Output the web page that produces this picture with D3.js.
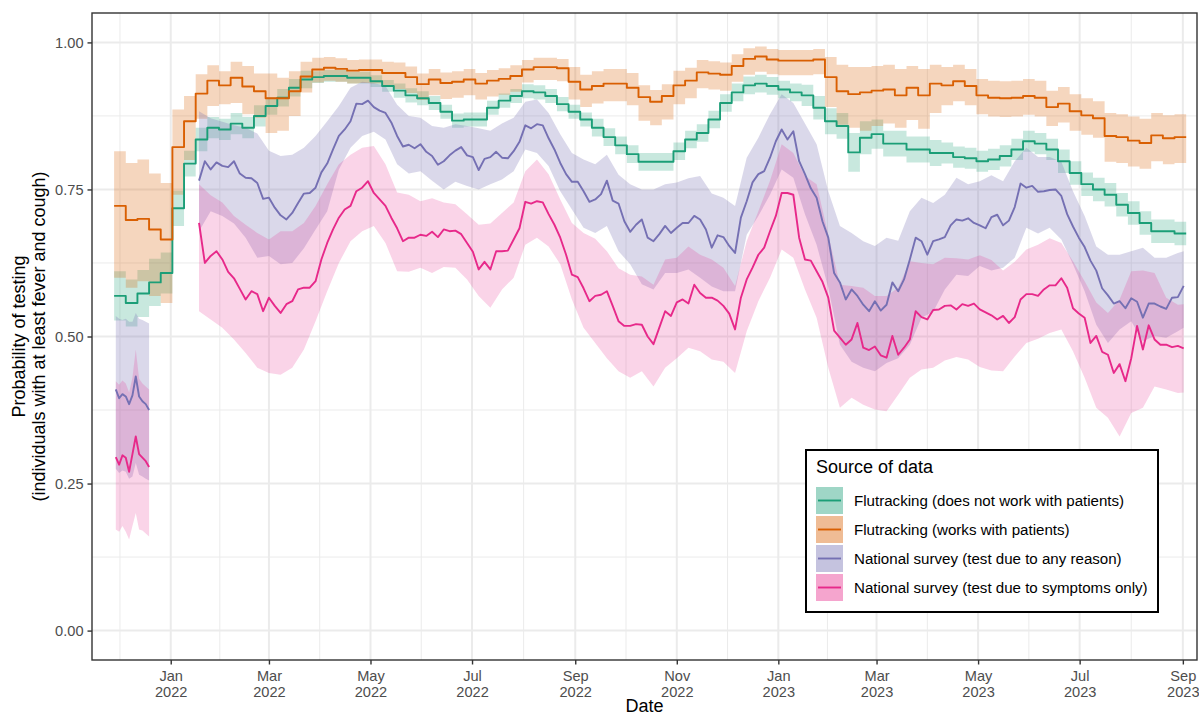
<!DOCTYPE html>
<html>
<head>
<meta charset="utf-8">
<script src="https://cdn.jsdelivr.net/npm/d3@7"></script>
<style>
  body { margin: 0; background: #fff; }
  text { font-family: "Liberation Sans", Arial, sans-serif; }
</style>
</head>
<body>
<div id="chart"></div>
<script>
// ---- data ----
const seriesNames = [
  "Flutracking (does not work with patients)",
  "Flutracking (works with patients)",
  "National survey (test due to any reason)",
  "National survey (test due to symptoms only)"
];
const seriesColors = ["#1B9E77", "#D95F02", "#7570B3", "#E7298A"];
const bandOpacity = [0.24, 0.26, 0.27, 0.2];

// Flutracking: weekly values, first week starts 2021-11-28
const fluFirstWeek = "2021-11-28";
const fluNoPatients = [
  0.569,0.557,0.573,0.592,0.608,0.718,0.794,0.835,0.855,0.852,
  0.862,0.855,0.875,0.892,0.906,0.923,0.937,0.941,0.943,0.943,
  0.940,0.940,0.934,0.926,0.918,0.910,0.905,0.897,0.882,0.867,
  0.869,0.869,0.889,0.901,0.909,0.917,0.915,0.909,0.895,0.882,
  0.869,0.855,0.839,0.825,0.810,0.797,0.797,0.797,0.815,0.835,
  0.846,0.869,0.897,0.915,0.927,0.930,0.926,0.920,0.915,0.910,
  0.889,0.866,0.858,0.813,0.838,0.844,0.828,0.828,0.818,0.818,
  0.812,0.812,0.805,0.803,0.798,0.801,0.807,0.818,0.832,0.828,
  0.818,0.798,0.778,0.759,0.750,0.741,0.724,0.710,0.693,0.679,
  0.679,0.675];
const fluNoPatientsHalf = [
  0.042,0.040,0.040,0.040,0.035,0.030,0.022,0.020,0.018,0.018,
  0.018,0.018,0.018,0.015,0.015,0.015,0.015,0.010,0.010,0.010,
  0.010,0.010,0.010,0.010,0.012,0.012,0.012,0.012,0.012,0.012,
  0.012,0.012,0.012,0.012,0.012,0.012,0.012,0.012,0.012,0.012,
  0.012,0.015,0.015,0.015,0.015,0.015,0.015,0.015,0.015,0.015,
  0.015,0.015,0.015,0.015,0.015,0.015,0.015,0.015,0.015,0.018,
  0.020,0.022,0.022,0.033,0.028,0.025,0.022,0.022,0.022,0.022,
  0.022,0.018,0.018,0.018,0.018,0.018,0.018,0.018,0.018,0.018,
  0.018,0.020,0.020,0.020,0.020,0.020,0.020,0.020,0.020,0.020,
  0.020,0.020];
const fluPatients = [
  0.722,0.698,0.700,0.682,0.665,0.822,0.866,0.913,0.935,0.927,
  0.940,0.925,0.917,0.905,0.905,0.917,0.942,0.954,0.957,0.955,
  0.952,0.953,0.953,0.948,0.948,0.941,0.929,0.937,0.931,0.933,
  0.937,0.930,0.935,0.938,0.943,0.954,0.958,0.958,0.956,0.933,
  0.920,0.926,0.930,0.930,0.923,0.907,0.899,0.909,0.927,0.935,
  0.949,0.947,0.945,0.960,0.972,0.976,0.971,0.969,0.969,0.969,
  0.971,0.941,0.917,0.912,0.915,0.918,0.920,0.910,0.923,0.910,
  0.930,0.927,0.934,0.926,0.910,0.906,0.905,0.906,0.909,0.906,
  0.890,0.896,0.883,0.876,0.871,0.841,0.839,0.833,0.829,0.842,
  0.837,0.839];
const fluPatientsHi = [
  0.815,0.795,0.801,0.777,0.761,0.886,0.909,0.946,0.961,0.951,
  0.967,0.960,0.947,0.947,0.940,0.951,0.967,0.974,0.975,0.973,
  0.970,0.971,0.971,0.967,0.966,0.959,0.947,0.955,0.949,0.951,
  0.955,0.948,0.953,0.956,0.961,0.970,0.974,0.974,0.972,0.958,
  0.945,0.951,0.955,0.955,0.948,0.927,0.919,0.929,0.952,0.957,
  0.970,0.968,0.966,0.980,0.990,0.993,0.989,0.987,0.987,0.987,
  0.989,0.975,0.962,0.958,0.958,0.960,0.962,0.955,0.960,0.955,
  0.962,0.958,0.962,0.955,0.938,0.935,0.934,0.935,0.938,0.935,
  0.918,0.924,0.912,0.905,0.900,0.880,0.878,0.874,0.870,0.880,
  0.876,0.878];
const fluPatientsLo = [
  0.600,0.583,0.594,0.569,0.557,0.741,0.800,0.870,0.892,0.895,
  0.897,0.878,0.872,0.846,0.850,0.875,0.915,0.932,0.935,0.933,
  0.930,0.931,0.930,0.925,0.921,0.914,0.902,0.910,0.904,0.906,
  0.910,0.903,0.908,0.911,0.916,0.932,0.936,0.936,0.934,0.903,
  0.890,0.896,0.900,0.900,0.893,0.867,0.859,0.869,0.895,0.905,
  0.922,0.920,0.918,0.933,0.945,0.950,0.946,0.944,0.944,0.944,
  0.946,0.890,0.860,0.855,0.850,0.858,0.862,0.855,0.868,0.853,
  0.880,0.893,0.900,0.893,0.878,0.874,0.873,0.874,0.877,0.874,
  0.858,0.864,0.850,0.843,0.838,0.797,0.795,0.789,0.785,0.798,
  0.793,0.795];

// National survey, first block (late 2021)
const surveyEarlyDates = ["2021-11-29","2021-12-01","2021-12-03","2021-12-05","2021-12-07",
  "2021-12-09","2021-12-11","2021-12-13","2021-12-15","2021-12-17","2021-12-19"];
const anyEarly   = [0.410,0.395,0.402,0.398,0.385,0.400,0.432,0.398,0.390,0.385,0.375];
const anyEarlyHi = [0.535,0.530,0.528,0.530,0.525,0.525,0.540,0.530,0.528,0.525,0.522];
const anyEarlyLo = [0.275,0.268,0.272,0.270,0.258,0.262,0.285,0.265,0.262,0.258,0.255];
const symEarly   = [0.295,0.282,0.298,0.294,0.270,0.300,0.330,0.300,0.294,0.288,0.278];
const symEarlyHi = [0.424,0.418,0.425,0.420,0.405,0.430,0.478,0.428,0.420,0.415,0.410];
const symEarlyLo = [0.172,0.168,0.178,0.168,0.155,0.178,0.200,0.172,0.170,0.165,0.160];

// National survey, main block: lines every 3.5 days from 2022-01-18
const surveyStart = "2022-01-18";
const anyReason = [
  0.765,0.798, 0.784,0.796, 0.790,0.788, 0.798,0.777, 0.770,0.769,
  0.761,0.734, 0.736,0.719, 0.706,0.699, 0.710,0.727, 0.743,0.744,
  0.753,0.779, 0.794,0.818, 0.841,0.852, 0.866,0.896, 0.895,0.901,
  0.890,0.884, 0.880,0.864, 0.841,0.823, 0.826,0.820, 0.827,0.814,
  0.807,0.792, 0.798,0.808, 0.816,0.822, 0.808,0.805, 0.783,0.802,
  0.805,0.814, 0.804,0.803, 0.815,0.831, 0.859,0.854, 0.861,0.859,
  0.837,0.818, 0.795,0.776, 0.763,0.763, 0.747,0.729, 0.733,0.742,
  0.765,0.731, 0.726,0.696, 0.678,0.690, 0.699,0.668, 0.662,0.674,
  0.688,0.676, 0.685,0.693, 0.693,0.705, 0.699,0.682, 0.651,0.672,
  0.669,0.654, 0.642,0.702, 0.730,0.762, 0.776,0.781, 0.804,0.832,
  0.852,0.835, 0.849,0.798, 0.776,0.752, 0.736,0.696, 0.668,0.608,
  0.592,0.563, 0.580,0.569, 0.554,0.543, 0.560,0.544, 0.554,0.592,
  0.577,0.597, 0.631,0.668, 0.662,0.639, 0.662,0.665, 0.669,0.689,
  0.699,0.697, 0.701,0.693, 0.689,0.684, 0.703,0.707, 0.689,0.697,
  0.720,0.760, 0.753,0.756, 0.746,0.747, 0.749,0.750, 0.739,0.708,
  0.687,0.668, 0.652,0.629, 0.612,0.582, 0.570,0.556, 0.560,0.548,
  0.565,0.559, 0.532,0.556, 0.556,0.551, 0.547,0.566, 0.567,0.586];
const symptomsOnly = [
  0.693,0.625, 0.637,0.645, 0.631,0.610, 0.599,0.581, 0.563,0.577,
  0.572,0.543, 0.566,0.552, 0.540,0.555, 0.560,0.580, 0.583,0.583,
  0.594,0.631, 0.659,0.682, 0.702,0.716, 0.722,0.747, 0.753,0.764,
  0.744,0.733, 0.722,0.702, 0.684,0.662, 0.668,0.668, 0.673,0.671,
  0.678,0.669, 0.682,0.679, 0.680,0.674, 0.659,0.644, 0.614,0.627,
  0.614,0.645, 0.645,0.646, 0.665,0.684, 0.729,0.726, 0.730,0.728,
  0.708,0.690, 0.668,0.639, 0.605,0.601, 0.582,0.560, 0.569,0.571,
  0.577,0.552, 0.526,0.518, 0.518,0.521, 0.520,0.500, 0.487,0.515,
  0.543,0.535, 0.558,0.563, 0.556,0.588, 0.574,0.566, 0.566,0.561,
  0.552,0.539, 0.512,0.566, 0.597,0.617, 0.639,0.651, 0.679,0.705,
  0.744,0.744, 0.741,0.668, 0.631,0.629, 0.611,0.593, 0.566,0.510,
  0.498,0.486, 0.495,0.523, 0.481,0.477, 0.483,0.468, 0.464,0.501,
  0.469,0.481, 0.495,0.543, 0.533,0.529, 0.545,0.546, 0.552,0.553,
  0.546,0.555, 0.552,0.556, 0.546,0.541, 0.536,0.529, 0.535,0.523,
  0.533,0.563, 0.572,0.572, 0.569,0.580, 0.587,0.587, 0.599,0.583,
  0.548,0.539, 0.532,0.489, 0.501,0.474, 0.469,0.438, 0.453,0.424,
  0.463,0.518, 0.478,0.519, 0.495,0.486, 0.486,0.482, 0.484,0.480];

// confidence bands: weekly from 2022-01-18, last value at the end of the line
const anyReasonHi = [
  0.883,0.871,0.865,0.859,0.855,0.845,0.816,0.807,0.809,0.821,
  0.841,0.866,0.892,0.923,0.933,0.931,0.926,0.894,0.875,0.872,
  0.858,0.855,0.861,0.858,0.854,0.850,0.862,0.872,0.899,0.903,
  0.880,0.844,0.812,0.801,0.793,0.809,0.775,0.759,0.750,0.750,
  0.759,0.762,0.769,0.773,0.743,0.736,0.722,0.804,0.838,0.878,
  0.912,0.897,0.862,0.827,0.747,0.688,0.676,0.662,0.654,0.668,
  0.663,0.713,0.736,0.727,0.741,0.770,0.759,0.764,0.774,0.764,
  0.798,0.821,0.805,0.805,0.797,0.747,0.705,0.653,0.639,0.639,
  0.645,0.651,0.634,0.634,0.642,0.645];
const anyReasonLo = [
  0.679,0.713,0.705,0.692,0.668,0.634,0.637,0.623,0.625,0.650,
  0.682,0.713,0.784,0.821,0.841,0.848,0.835,0.793,0.777,0.781,
  0.765,0.750,0.763,0.756,0.750,0.759,0.767,0.781,0.818,0.812,
  0.790,0.747,0.716,0.685,0.676,0.688,0.645,0.623,0.589,0.580,
  0.608,0.608,0.614,0.600,0.585,0.577,0.577,0.673,0.705,0.741,
  0.784,0.770,0.708,0.656,0.583,0.486,0.457,0.447,0.441,0.455,
  0.463,0.486,0.532,0.542,0.580,0.605,0.603,0.620,0.612,0.617,
  0.634,0.685,0.675,0.685,0.665,0.623,0.577,0.520,0.489,0.512,
  0.526,0.492,0.501,0.498,0.509,0.515];
const symptomsHi = [
  0.759,0.740,0.728,0.705,0.690,0.676,0.665,0.679,0.679,0.693,
  0.722,0.759,0.793,0.809,0.821,0.824,0.793,0.745,0.741,0.730,
  0.735,0.728,0.725,0.708,0.690,0.692,0.710,0.728,0.781,0.801,
  0.776,0.733,0.693,0.676,0.666,0.645,0.616,0.605,0.602,0.588,
  0.631,0.634,0.653,0.639,0.631,0.617,0.586,0.662,0.713,0.765,
  0.827,0.812,0.773,0.759,0.673,0.588,0.586,0.583,0.569,0.569,
  0.583,0.628,0.625,0.623,0.634,0.633,0.631,0.638,0.630,0.612,
  0.627,0.648,0.656,0.667,0.659,0.628,0.594,0.558,0.540,0.563,
  0.611,0.612,0.608,0.566,0.554,0.555];
const symptomsLo = [
  0.543,0.529,0.515,0.495,0.472,0.447,0.438,0.435,0.447,0.478,
  0.526,0.577,0.625,0.662,0.679,0.688,0.659,0.611,0.610,0.617,
  0.608,0.618,0.617,0.597,0.569,0.549,0.580,0.600,0.656,0.668,
  0.653,0.623,0.563,0.515,0.489,0.463,0.441,0.430,0.441,0.415,
  0.447,0.463,0.481,0.475,0.461,0.457,0.438,0.509,0.560,0.600,
  0.648,0.634,0.580,0.532,0.447,0.379,0.396,0.384,0.376,0.373,
  0.401,0.430,0.444,0.447,0.459,0.465,0.461,0.448,0.442,0.441,
  0.466,0.489,0.496,0.506,0.512,0.475,0.430,0.379,0.362,0.330,
  0.370,0.379,0.415,0.410,0.404,0.405];

const yTicks = [0, 0.25, 0.5, 0.75, 1.0];

// ---- layout ----
const W = 1199, H = 717;
const panel = {left: 92, right: 1197, top: 13, bottom: 660};
const parse = d3.utcParse("%Y-%m-%d");

const x = d3.scaleUtc()
  .domain([new Date(Date.UTC(2021, 10, 14, 17)), new Date(Date.UTC(2023, 8, 9, 12))])
  .range([panel.left, panel.right]);
const y = d3.scaleLinear().domain([-0.05, 1.05]).range([panel.bottom, panel.top]);

const svg = d3.select("#chart").append("svg")
  .attr("width", W).attr("height", H);

// grid
const grid = svg.append("g");
const majorMonths = d3.utcMonth.every(2).range(new Date(Date.UTC(2021, 10, 1)), new Date(Date.UTC(2023, 11, 2)));
const minorMonths = d3.pairs(majorMonths).map(([a, b]) => new Date((+a + +b) / 2));
const inPanel = d => x(d) >= panel.left && x(d) <= panel.right;

grid.selectAll(".vminor").data(minorMonths.filter(inPanel)).enter().append("line")
  .attr("x1", d => x(d)).attr("x2", d => x(d))
  .attr("y1", panel.top).attr("y2", panel.bottom)
  .attr("stroke", "#ebebeb").attr("stroke-width", 1);
grid.selectAll(".hminor").data(d3.pairs(yTicks).map(([a, b]) => (a + b) / 2)).enter().append("line")
  .attr("x1", panel.left).attr("x2", panel.right)
  .attr("y1", d => y(d)).attr("y2", d => y(d))
  .attr("stroke", "#ebebeb").attr("stroke-width", 1);
grid.selectAll(".vmajor").data(majorMonths.filter(inPanel)).enter().append("line")
  .attr("x1", d => x(d)).attr("x2", d => x(d))
  .attr("y1", panel.top).attr("y2", panel.bottom)
  .attr("stroke", "#ebebeb").attr("stroke-width", 2);
grid.selectAll(".hmajor").data(yTicks).enter().append("line")
  .attr("x1", panel.left).attr("x2", panel.right)
  .attr("y1", d => y(d)).attr("y2", d => y(d))
  .attr("stroke", "#ebebeb").attr("stroke-width", 2);

// build series
const fluStart = parse(fluFirstWeek);
const weekDate = i => d3.utcDay.offset(fluStart, 7 * i);
function stepData(vals, lo, hi) {
  const pts = vals.map((v, i) => ({date: weekDate(i), v: v, lo: lo[i], hi: hi[i]}));
  const last = pts[pts.length - 1];
  pts.push({date: weekDate(vals.length), v: last.v, lo: last.lo, hi: last.hi});
  return pts;
}
const greenData = stepData(fluNoPatients,
  fluNoPatients.map((v, i) => v - fluNoPatientsHalf[i]),
  fluNoPatients.map((v, i) => v + fluNoPatientsHalf[i]));
const orangeData = stepData(fluPatients, fluPatientsLo, fluPatientsHi);

const sStart = parse(surveyStart);
const lineDate = i => d3.utcHour.offset(sStart, 84 * i);
const bandDate = (i, n, nLine) => i < n - 1 ? d3.utcDay.offset(sStart, 7 * i) : lineDate(nLine - 1);

function surveyLine(vals) {
  return vals.map((v, i) => ({date: lineDate(i), v: v}));
}
function surveyBand(lo, hi, nLine) {
  return lo.map((l, i) => ({date: bandDate(i, lo.length, nLine), lo: l, hi: hi[i]}));
}
function earlyLine(vals) {
  return vals.map((v, i) => ({date: parse(surveyEarlyDates[i]), v: v}));
}
function earlyBand(lo, hi) {
  return lo.map((l, i) => ({date: parse(surveyEarlyDates[i]), lo: l, hi: hi[i]}));
}

const bands = [
  {data: greenData, k: 0, step: true},
  {data: orangeData, k: 1, step: true},
  {data: earlyBand(anyEarlyLo, anyEarlyHi), k: 2},
  {data: surveyBand(anyReasonLo, anyReasonHi, anyReason.length), k: 2},
  {data: earlyBand(symEarlyLo, symEarlyHi), k: 3},
  {data: surveyBand(symptomsLo, symptomsHi, symptomsOnly.length), k: 3}
];
const lines = [
  {data: greenData, k: 0, step: true},
  {data: orangeData, k: 1, step: true},
  {data: earlyLine(anyEarly), k: 2},
  {data: surveyLine(anyReason), k: 2},
  {data: earlyLine(symEarly), k: 3},
  {data: surveyLine(symptomsOnly), k: 3}
];

const plot = svg.append("g");
bands.forEach(b => {
  const area = d3.area()
    .x(d => x(d.date)).y0(d => y(d.lo)).y1(d => y(d.hi))
    .curve(b.step ? d3.curveStepAfter : d3.curveLinear);
  plot.append("path").datum(b.data)
    .attr("d", area)
    .attr("fill", seriesColors[b.k]).attr("fill-opacity", bandOpacity[b.k]);
});
lines.forEach(l => {
  const line = d3.line()
    .x(d => x(d.date)).y(d => y(d.v))
    .curve(l.step ? d3.curveStepAfter : d3.curveLinear);
  plot.append("path").datum(l.data)
    .attr("d", line)
    .attr("fill", "none").attr("stroke", seriesColors[l.k])
    .attr("stroke-width", 1.9).attr("stroke-linejoin", "round");
});

// panel border
svg.append("rect")
  .attr("x", panel.left).attr("y", panel.top)
  .attr("width", panel.right - panel.left).attr("height", panel.bottom - panel.top)
  .attr("fill", "none").attr("stroke", "#333333").attr("stroke-width", 1.4);

// x axis
const xAxis = svg.append("g").attr("transform", `translate(0,${panel.bottom})`)
  .call(d3.axisBottom(x).tickValues(majorMonths.filter(inPanel)).tickSize(4.5).tickFormat(""));
xAxis.select(".domain").remove();
xAxis.selectAll(".tick line").attr("stroke", "#333333").attr("stroke-width", 1.4);
const fmtMonth = d3.utcFormat("%b"), fmtYear = d3.utcFormat("%Y");
xAxis.selectAll(".tick").each(function(d) {
  const t = d3.select(this).append("text")
    .attr("fill", "#4d4d4d").attr("font-size", 14.6).attr("text-anchor", "middle");
  t.append("tspan").attr("x", 0).attr("y", 20.5).text(fmtMonth(d));
  t.append("tspan").attr("x", 0).attr("y", 36.5).text(fmtYear(d));
});

// y axis
const yAxis = svg.append("g").attr("transform", `translate(${panel.left},0)`)
  .call(d3.axisLeft(y).tickValues(yTicks).tickSize(4.5).tickPadding(4).tickFormat(d3.format(".2f")));
yAxis.select(".domain").remove();
yAxis.selectAll(".tick line").attr("stroke", "#333333").attr("stroke-width", 1.4);
yAxis.selectAll(".tick text")
  .attr("fill", "#4d4d4d").attr("font-size", 14.6)
  .style("font-family", "'Liberation Sans', Arial, sans-serif");

// axis titles
svg.append("text")
  .attr("x", (panel.left + panel.right) / 2).attr("y", 712)
  .attr("text-anchor", "middle").attr("font-size", 18).attr("fill", "#000")
  .text("Date");
const yTitle = svg.append("text")
  .attr("transform", `translate(0,${(panel.top + panel.bottom) / 2}) rotate(-90)`)
  .attr("text-anchor", "middle").attr("font-size", 18).attr("fill", "#000");
yTitle.append("tspan").attr("x", 0).attr("y", 25).text("Probability of testing");
yTitle.append("tspan").attr("x", 0).attr("y", 45).text("(individuals with at least fever and cough)");

// legend
const legend = svg.append("g").attr("transform", "translate(806,450)");
legend.append("rect")
  .attr("width", 352).attr("height", 162)
  .attr("fill", "#fff").attr("stroke", "#000").attr("stroke-width", 2);
legend.append("text")
  .attr("x", 10).attr("y", 23).attr("font-size", 18).attr("fill", "#000")
  .text("Source of data");
const rows = legend.selectAll(".row").data(seriesNames).enter().append("g")
  .attr("transform", (d, i) => `translate(10,${37 + i * 29})`);
rows.append("rect")
  .attr("width", 27).attr("height", 27)
  .attr("fill", (d, i) => seriesColors[i]).attr("fill-opacity", 0.42);
rows.append("line")
  .attr("x1", 2).attr("x2", 25).attr("y1", 13.5).attr("y2", 13.5)
  .attr("stroke", (d, i) => seriesColors[i]).attr("stroke-width", 1.9);
rows.append("text")
  .attr("x", 38).attr("y", 13.5).attr("dy", "0.35em")
  .attr("font-size", 15.1).attr("fill", "#000")
  .text(d => d);
</script>
</body>
</html>
